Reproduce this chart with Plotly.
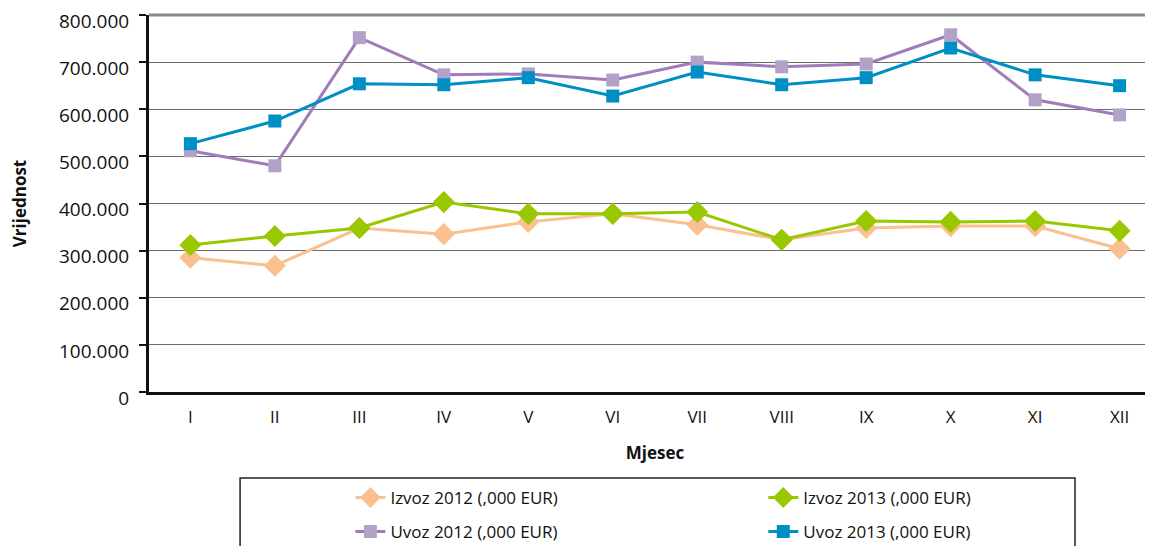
import plotly.graph_objects as go

months = ['I', 'II', 'III', 'IV', 'V', 'VI', 'VII', 'VIII', 'IX', 'X', 'XI', 'XII']

# vrijednosti u ,000 EUR
izvoz_2012 = [285, 268, 348, 335, 361, 378, 355, 323, 348, 352, 352, 304]
izvoz_2013 = [312, 331, 348, 403, 378, 378, 382, 323, 363, 361, 363, 342]
uvoz_2012 = [512, 480, 752, 673, 675, 662, 700, 690, 696, 758, 620, 588]
uvoz_2013 = [527, 575, 654, 652, 667, 628, 679, 652, 667, 730, 673, 650]

y_ticks = [0, 100, 200, 300, 400, 500, 600, 700, 800]
y_tick_text = ['0', '100.000', '200.000', '300.000', '400.000', '500.000', '600.000', '700.000', '800.000']

FONT = 'Open Sans'

fig = go.Figure()

# order of drawing: exports first, then imports
fig.add_trace(go.Scatter(x=months, y=izvoz_2012, mode='lines+markers', name='Izvoz 2012 (,000 EUR)',
                         line=dict(color='#FAC090', width=3),
                         marker=dict(symbol='diamond', size=17, color='#FAC090'), legend='legend'))
fig.add_trace(go.Scatter(x=months, y=izvoz_2013, mode='lines+markers', name='Izvoz 2013 (,000 EUR)',
                         line=dict(color='#99C800', width=3),
                         marker=dict(symbol='diamond', size=17, color='#99C800'), legend='legend2'))
fig.add_trace(go.Scatter(x=months, y=uvoz_2012, mode='lines+markers', name='Uvoz 2012 (,000 EUR)',
                         line=dict(color='#A07CBA', width=3),
                         marker=dict(symbol='square', size=13, color='#B3A2C7'), legend='legend3'))
fig.add_trace(go.Scatter(x=months, y=uvoz_2013, mode='lines+markers', name='Uvoz 2013 (,000 EUR)',
                         line=dict(color='#008FC4', width=3),
                         marker=dict(symbol='square', size=13, color='#008FC4'), legend='legend4'))

legend_style = dict(orientation='h', xanchor='left', yanchor='middle',
                    bgcolor='rgba(0,0,0,0)', borderwidth=0,
                    font=dict(family=FONT, size=17, color='#111111'))

fig.update_layout(
    width=1153, height=546,
    margin=dict(l=141, r=0, t=7, b=162, autoexpand=False),
    showlegend=True,
    plot_bgcolor='white', paper_bgcolor='white',
    font=dict(family=FONT, color='#111111'),
    legend=dict(legend_style, x=0.199, y=-0.281),
    legend2=dict(legend_style, x=0.607, y=-0.281),
    legend3=dict(legend_style, x=0.199, y=-0.371),
    legend4=dict(legend_style, x=0.607, y=-0.371),
    xaxis=dict(
        type='category', range=[-0.49, 11.49], automargin=False,
        showgrid=False, showline=True, linecolor='#111111', linewidth=3,
        ticks='outside', ticklen=8, tickcolor='rgba(0,0,0,0)', tickfont=dict(size=17, family=FONT),
        title=dict(text='<b>Mjesec</b>', font=dict(size=17, family=FONT), standoff=20),
    ),
    yaxis=dict(
        range=[0, 800], tickvals=y_ticks, ticktext=y_tick_text, automargin=False,
        showgrid=True, gridcolor='#6a6a6a', gridwidth=1,
        showline=True, linecolor='#111111', linewidth=3,
        ticks='outside', ticklen=7, tickcolor='#111111', tickwidth=2,
        ticklabelstandoff=6, ticklabeloverflow='allow', ticklabelshift=6,
        tickfont=dict(size=19, family=FONT),
        title=dict(text='<b>Vrijednost</b>', font=dict(size=17, family=FONT), standoff=32),
        zeroline=False,
    ),
)

# top border of the plot area
fig.add_shape(type='line', xref='paper', yref='paper', x0=0, x1=1, y0=1, y1=1,
              line=dict(color='#8a8a8a', width=3))
# legend frame
fig.add_shape(type='rect', xref='paper', yref='paper', x0=0.090, x1=0.915, y0=-0.5, y1=-0.228,
              line=dict(color='#222222', width=1.5), fillcolor='rgba(0,0,0,0)')

fig.write_html('out.html')
